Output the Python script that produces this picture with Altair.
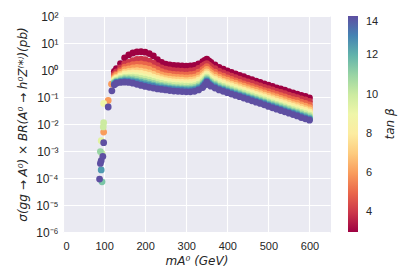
import altair as alt
import pandas as pd

# ---- data (log10 of sigma x BR in pb) ----
mass = [125, 130, 140, 150, 160, 170, 180, 190, 200, 210, 220, 230, 240, 250, 260, 270, 280,
        290, 300, 310, 320, 330, 340, 345, 350, 355, 360, 370, 380, 390, 400, 410, 420, 430,
        440, 450, 460, 470, 480, 490, 500, 510, 520, 530, 540, 550, 560, 570, 580, 590, 600]

log_tb3 = [-0.05, 0.05, 0.24, 0.45, 0.56, 0.63, 0.67, 0.68, 0.66, 0.61, 0.52, 0.38, 0.28, 0.22, 0.19, 0.17, 0.16,
           0.15, 0.14, 0.15, 0.17, 0.23, 0.31, 0.36, 0.40, 0.34, 0.28, 0.19, 0.10, 0.03, -0.03, -0.09, -0.14, -0.20,
           -0.25, -0.31, -0.36, -0.41, -0.46, -0.51, -0.56, -0.61, -0.66, -0.70, -0.75, -0.80, -0.85, -0.89, -0.94, -0.98, -1.03]
log_tb4 = [-0.15, -0.07, 0.08, 0.23, 0.28, 0.35, 0.39, 0.40, 0.38, 0.33, 0.25, 0.16, 0.08, 0.03, 0.00, -0.02, -0.03,
           -0.04, -0.05, -0.03, -0.01, 0.06, 0.15, 0.20, 0.24, 0.18, 0.12, 0.05, -0.04, -0.11, -0.17, -0.23, -0.28, -0.34,
           -0.39, -0.44, -0.49, -0.54, -0.59, -0.64, -0.69, -0.74, -0.79, -0.83, -0.88, -0.93, -0.98, -1.02, -1.07, -1.11, -1.16]
log_tb5 = [-0.22, -0.15, -0.02, 0.11, 0.15, 0.20, 0.22, 0.23, 0.20, 0.16, 0.08, 0.01, -0.06, -0.11, -0.14, -0.16, -0.17,
           -0.18, -0.19, -0.17, -0.15, -0.08, 0.01, 0.06, 0.12, 0.05, -0.01, -0.08, -0.17, -0.23, -0.29, -0.35, -0.40, -0.46,
           -0.51, -0.56, -0.61, -0.66, -0.71, -0.76, -0.80, -0.85, -0.90, -0.95, -1.00, -1.05, -1.10, -1.13, -1.19, -1.24, -1.29]
log_tb6 = [-0.28, -0.20, -0.09, 0.01, 0.04, 0.08, 0.10, 0.09, 0.06, 0.02, -0.04, -0.12, -0.18, -0.22, -0.24, -0.26, -0.27,
           -0.28, -0.29, -0.28, -0.26, -0.20, -0.11, -0.04, 0.02, -0.05, -0.11, -0.18, -0.26, -0.33, -0.38, -0.44, -0.49, -0.55,
           -0.60, -0.65, -0.70, -0.75, -0.80, -0.85, -0.90, -0.95, -1.00, -1.05, -1.10, -1.15, -1.20, -1.23, -1.29, -1.34, -1.39]
log_tb7 = [-0.33, -0.26, -0.16, -0.08, -0.05, -0.03, -0.02, -0.04, -0.07, -0.11, -0.16, -0.23, -0.28, -0.32, -0.34, -0.36, -0.37,
           -0.38, -0.39, -0.38, -0.36, -0.30, -0.21, -0.14, -0.07, -0.14, -0.20, -0.27, -0.35, -0.42, -0.47, -0.52, -0.57, -0.63,
           -0.68, -0.73, -0.78, -0.83, -0.88, -0.93, -0.98, -1.03, -1.08, -1.13, -1.18, -1.23, -1.28, -1.32, -1.38, -1.43, -1.48]
log_tb8 = [-0.37, -0.30, -0.22, -0.14, -0.13, -0.11, -0.12, -0.13, -0.16, -0.20, -0.26, -0.31, -0.36, -0.39, -0.42, -0.44, -0.45,
           -0.46, -0.47, -0.46, -0.44, -0.38, -0.29, -0.22, -0.14, -0.22, -0.28, -0.35, -0.42, -0.48, -0.54, -0.59, -0.64, -0.70,
           -0.75, -0.80, -0.85, -0.90, -0.95, -1.00, -1.05, -1.10, -1.15, -1.20, -1.25, -1.30, -1.35, -1.39, -1.45, -1.50, -1.55]
log_tb9 = [-0.41, -0.34, -0.27, -0.21, -0.20, -0.20, -0.21, -0.23, -0.26, -0.30, -0.35, -0.40, -0.44, -0.47, -0.49, -0.51, -0.52,
           -0.53, -0.54, -0.54, -0.52, -0.46, -0.37, -0.29, -0.21, -0.29, -0.35, -0.42, -0.49, -0.55, -0.61, -0.66, -0.71, -0.76,
           -0.81, -0.86, -0.91, -0.96, -1.01, -1.06, -1.12, -1.17, -1.22, -1.27, -1.32, -1.37, -1.42, -1.46, -1.52, -1.57, -1.62]
log_tb10 = [-0.44, -0.38, -0.31, -0.27, -0.26, -0.26, -0.28, -0.31, -0.34, -0.38, -0.42, -0.47, -0.50, -0.53, -0.55, -0.57, -0.58,
            -0.59, -0.60, -0.60, -0.58, -0.52, -0.43, -0.35, -0.26, -0.35, -0.41, -0.48, -0.55, -0.61, -0.66, -0.71, -0.76, -0.81,
            -0.86, -0.91, -0.96, -1.01, -1.06, -1.11, -1.17, -1.22, -1.27, -1.32, -1.37, -1.42, -1.47, -1.51, -1.57, -1.62, -1.67]
log_tb11 = [-0.47, -0.41, -0.36, -0.32, -0.32, -0.33, -0.36, -0.39, -0.42, -0.46, -0.50, -0.54, -0.57, -0.59, -0.62, -0.64, -0.65,
            -0.66, -0.67, -0.66, -0.64, -0.59, -0.50, -0.42, -0.32, -0.40, -0.46, -0.53, -0.61, -0.66, -0.71, -0.76, -0.81, -0.87,
            -0.92, -0.97, -1.02, -1.07, -1.12, -1.17, -1.22, -1.27, -1.32, -1.37, -1.42, -1.47, -1.52, -1.57, -1.63, -1.68, -1.73]
log_tb12 = [-0.50, -0.44, -0.40, -0.37, -0.37, -0.39, -0.42, -0.45, -0.49, -0.52, -0.56, -0.60, -0.62, -0.65, -0.67, -0.69, -0.70,
            -0.71, -0.72, -0.72, -0.70, -0.64, -0.55, -0.47, -0.37, -0.45, -0.51, -0.58, -0.66, -0.71, -0.76, -0.81, -0.86, -0.91,
            -0.96, -1.01, -1.06, -1.11, -1.16, -1.21, -1.27, -1.32, -1.37, -1.42, -1.47, -1.52, -1.57, -1.62, -1.68, -1.73, -1.78]
log_tb13 = [-0.53, -0.46, -0.43, -0.41, -0.42, -0.44, -0.47, -0.51, -0.55, -0.58, -0.61, -0.65, -0.67, -0.69, -0.71, -0.73, -0.74,
            -0.75, -0.76, -0.76, -0.74, -0.69, -0.60, -0.51, -0.41, -0.50, -0.56, -0.63, -0.70, -0.75, -0.80, -0.85, -0.90, -0.95,
            -1.00, -1.05, -1.10, -1.15, -1.20, -1.25, -1.31, -1.36, -1.41, -1.46, -1.51, -1.56, -1.61, -1.66, -1.72, -1.77, -1.82]
log_tb14 = [-0.55, -0.49, -0.46, -0.45, -0.46, -0.49, -0.53, -0.57, -0.61, -0.64, -0.67, -0.70, -0.72, -0.74, -0.76, -0.78, -0.79,
            -0.80, -0.81, -0.81, -0.79, -0.74, -0.65, -0.56, -0.45, -0.54, -0.60, -0.67, -0.74, -0.79, -0.84, -0.89, -0.94, -0.99,
            -1.04, -1.09, -1.14, -1.19, -1.24, -1.29, -1.35, -1.40, -1.45, -1.50, -1.55, -1.60, -1.65, -1.70, -1.76, -1.81, -1.86]

tan_beta = [3, 4, 5, 6, 7, 8, 9, 10, 11, 12, 13, 14]
series = [log_tb3, log_tb4, log_tb5, log_tb6, log_tb7, log_tb8, log_tb9,
          log_tb10, log_tb11, log_tb12, log_tb13, log_tb14]

# scattered points below the kinematic threshold
low_mass = [95, 89, 93, 91, 93, 97, 99, 98, 99, 95, 93, 99, 99, 110, 118, 119, 110, 91]
low_log = [-4.14, -4.04, -3.70, -3.46, -3.36, -3.20, -2.69, -2.11, -1.95, -3.09, -2.62, -1.24, -2.30, -1.13, -0.52, -0.77, -1.37, -3.02]
low_tb = [11.5, 14, 12.5, 14, 14, 14, 14, 10, 10, 10, 9.5, 9, 6, 6, 6, 14, 14, 11]

y_exponents = [-6, -5, -4, -3, -2, -1, 0, 1, 2]
y_labels = ["10⁻⁶", "10⁻⁵", "10⁻⁴", "10⁻³", "10⁻²", "10⁻¹", "10⁰", "10¹", "10²"]
x_ticks = [0, 100, 200, 300, 400, 500, 600]
cbar_ticks = [4, 6, 8, 10, 12, 14]
cbar_title = ["tan β"]

# ---- table ----
rows = []
for tb, vals in zip(tan_beta, series):
    assert len(vals) == len(mass)
    for m, v in zip(mass, vals):
        rows.append({"m": m, "sigma": 10 ** v, "tb": tb})
for m, v, tb in zip(low_mass, low_log, low_tb):
    rows.append({"m": m, "sigma": 10 ** v, "tb": tb})
df = pd.DataFrame(rows)

expo = "round(log(datum.value)/LN10)"
label_expr = "".join(f"{expo} == {e} ? '{lab}' : " for e, lab in zip(y_exponents, y_labels)) + "''"

points = alt.Chart(df).mark_circle(size=46, opacity=1).encode(
    x=alt.X("m:Q", scale=alt.Scale(domain=[0, 650], nice=False),
            axis=alt.Axis(values=x_ticks, title="mA⁰ (GeV)", titleFontStyle="italic",
                          labelPadding=8, titlePadding=4)),
    y=alt.Y("sigma:Q", scale=alt.Scale(type="log", domain=[1e-6, 1e2], nice=False),
            axis=alt.Axis(values=[10.0 ** e for e in y_exponents], labelExpr=label_expr,
                          labelFontSize=12,
                          title="σ(gg → A⁰) × BR(A⁰ → h⁰Z⁽*⁾)(pb)", titleFontStyle="italic",
                          labelPadding=5, titlePadding=6)),
    color=alt.Color("tb:Q", scale=alt.Scale(scheme="spectral", domain=[3, 14]),
                    legend=alt.Legend(title=None, values=cbar_ticks, orient="right", offset=18,
                                      padding=0, gradientLength=216, gradientThickness=10,
                                      gradientStrokeWidth=0, labelOffset=8, labelBaseline="middle",
                                      labelFontSize=11, labelColor="#262626", labelFont="Liberation Sans")),
    order=alt.Order("tb:Q"),
)

cbar_label = alt.Chart(pd.DataFrame({"t": cbar_title})).mark_text(
    angle=270, font="DejaVu Sans", fontSize=12, fontStyle="italic", color="#262626",
    align="center", baseline="middle",
).encode(text="t:N", x=alt.value(327), y=alt.value(108))

chart = alt.layer(points, cbar_label).properties(
    width=267, height=216,
    autosize=alt.AutoSizeParams(type="none"),
    padding={"left": 55, "top": 8, "right": 68, "bottom": 39},
).configure_view(
    fill="#EAEAF2", stroke="#EAEAF2"
).configure_axis(
    grid=True, gridColor="white", gridWidth=1.1, domain=False, ticks=False, tickSize=0,
    labelFont="Liberation Sans", labelFontSize=11, labelColor="#262626",
    titleFont="DejaVu Sans", titleFontSize=12, titleFontWeight="normal", titleColor="#262626",
)

chart.save("out.html", embed_options={"renderer": "svg", "actions": False})
